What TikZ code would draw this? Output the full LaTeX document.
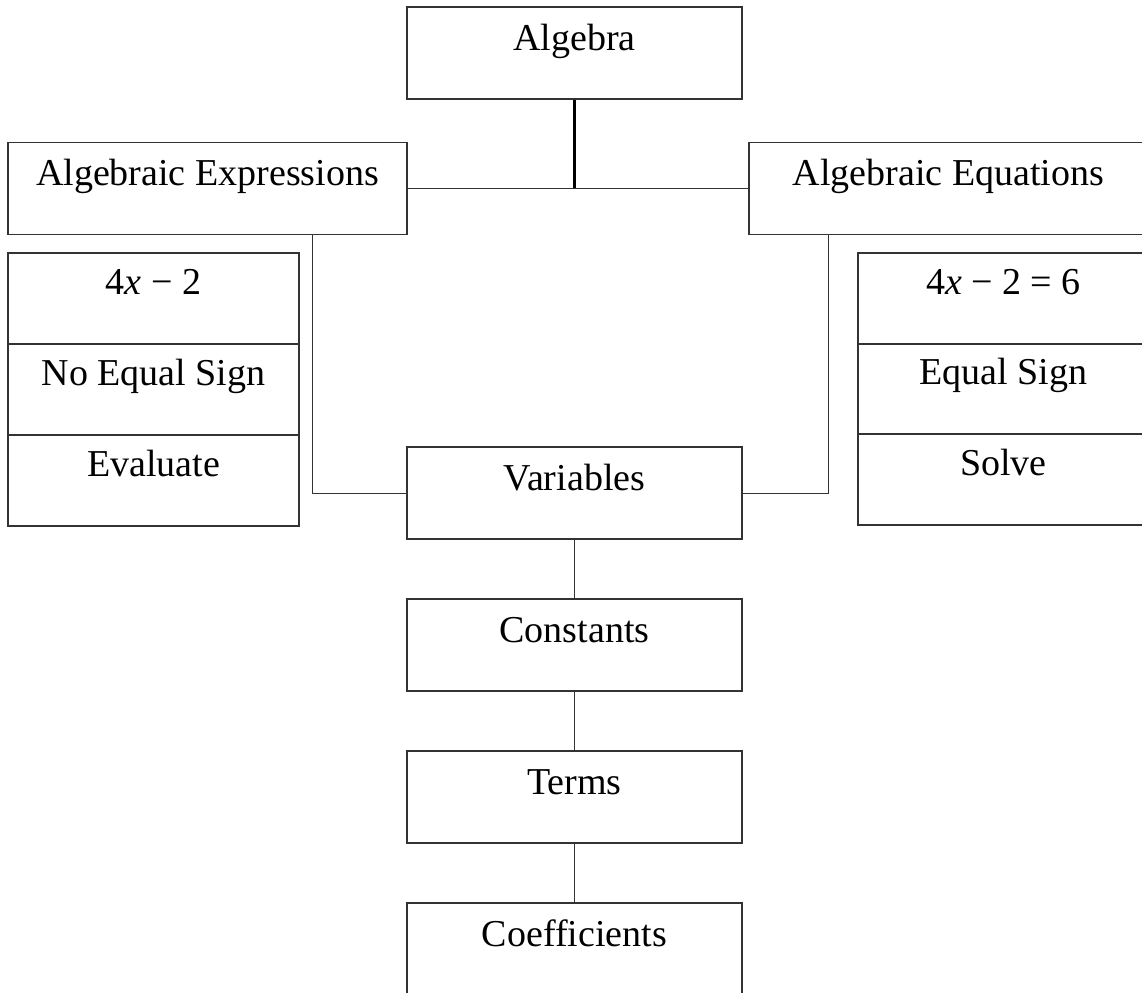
\RequirePackage{fix-cm}
\documentclass[tikz,border=0pt]{standalone}
\usepackage{amsmath}
\usepackage{fontspec}
\setmainfont{Liberation Serif}
\usepackage{tikz}

\tikzset{
	box/.style={draw=black!80, line width=0.6pt, inner sep=0pt, minimum width=167.5pt,
		text height=21.5pt, text depth=24.5pt, font=\fontsize{19}{23}\selectfont},
	wide/.style={box, minimum width=199.5pt},
	cell/.style={box, minimum width=145.5pt, text height=20.5pt, text depth=25pt},
	link/.style={draw=black!80, line width=0.5pt}
}

\begin{document}
\begin{tikzpicture}[x=0.5pt, y=-0.5pt]
	\useasboundingbox (0,0) rectangle (1142,992);
	\clip (0,0) rectangle (1142,992);

	\node[box]  (alg) at (574.5,53)    {Algebra};
	\node[wide] (exp) at (207.5,188.5) {Algebraic Expressions};
	\node[wide] (eqn) at (948.5,188.5) {Algebraic Equations};

	\node[cell] (ex1) at (153.5,298.5)  {4\textit{x} − 2};
	\node[cell] (ex2) at (153.5,389.5)  {No Equal Sign};
	\node[cell] (ex3) at (153.5,480.5)  {Evaluate};
	\node[cell] (eq1) at (1003.5,298.5) {4\textit{x} − 2 = 6};
	\node[cell] (eq2) at (1003.5,389)   {Equal Sign};
	\node[cell] (eq3) at (1003.5,479.5) {Solve};

	\node[box] (var) at (574.5,493) {Variables};
	\node[box] (con) at (574.5,645) {Constants};
	\node[box] (trm) at (574.5,797) {Terms};
	\node[box] (coe) at (574.5,949) {Coefficients};

	\coordinate (exdrop) at (312,234);
	\coordinate (eqdrop) at (828,234);

	\draw [black, line width=1.1pt] (alg.south) -- (alg.south |- exp.east);
	\path [link]
	(exp.east) edge (eqn.west)
	(var) edge (con)
	(con) edge (trm)
	(trm) edge (coe);
	\draw [link] (exdrop) |- (var.west);
	\draw [link] (eqdrop) |- (var.east);
\end{tikzpicture}
\end{document}
